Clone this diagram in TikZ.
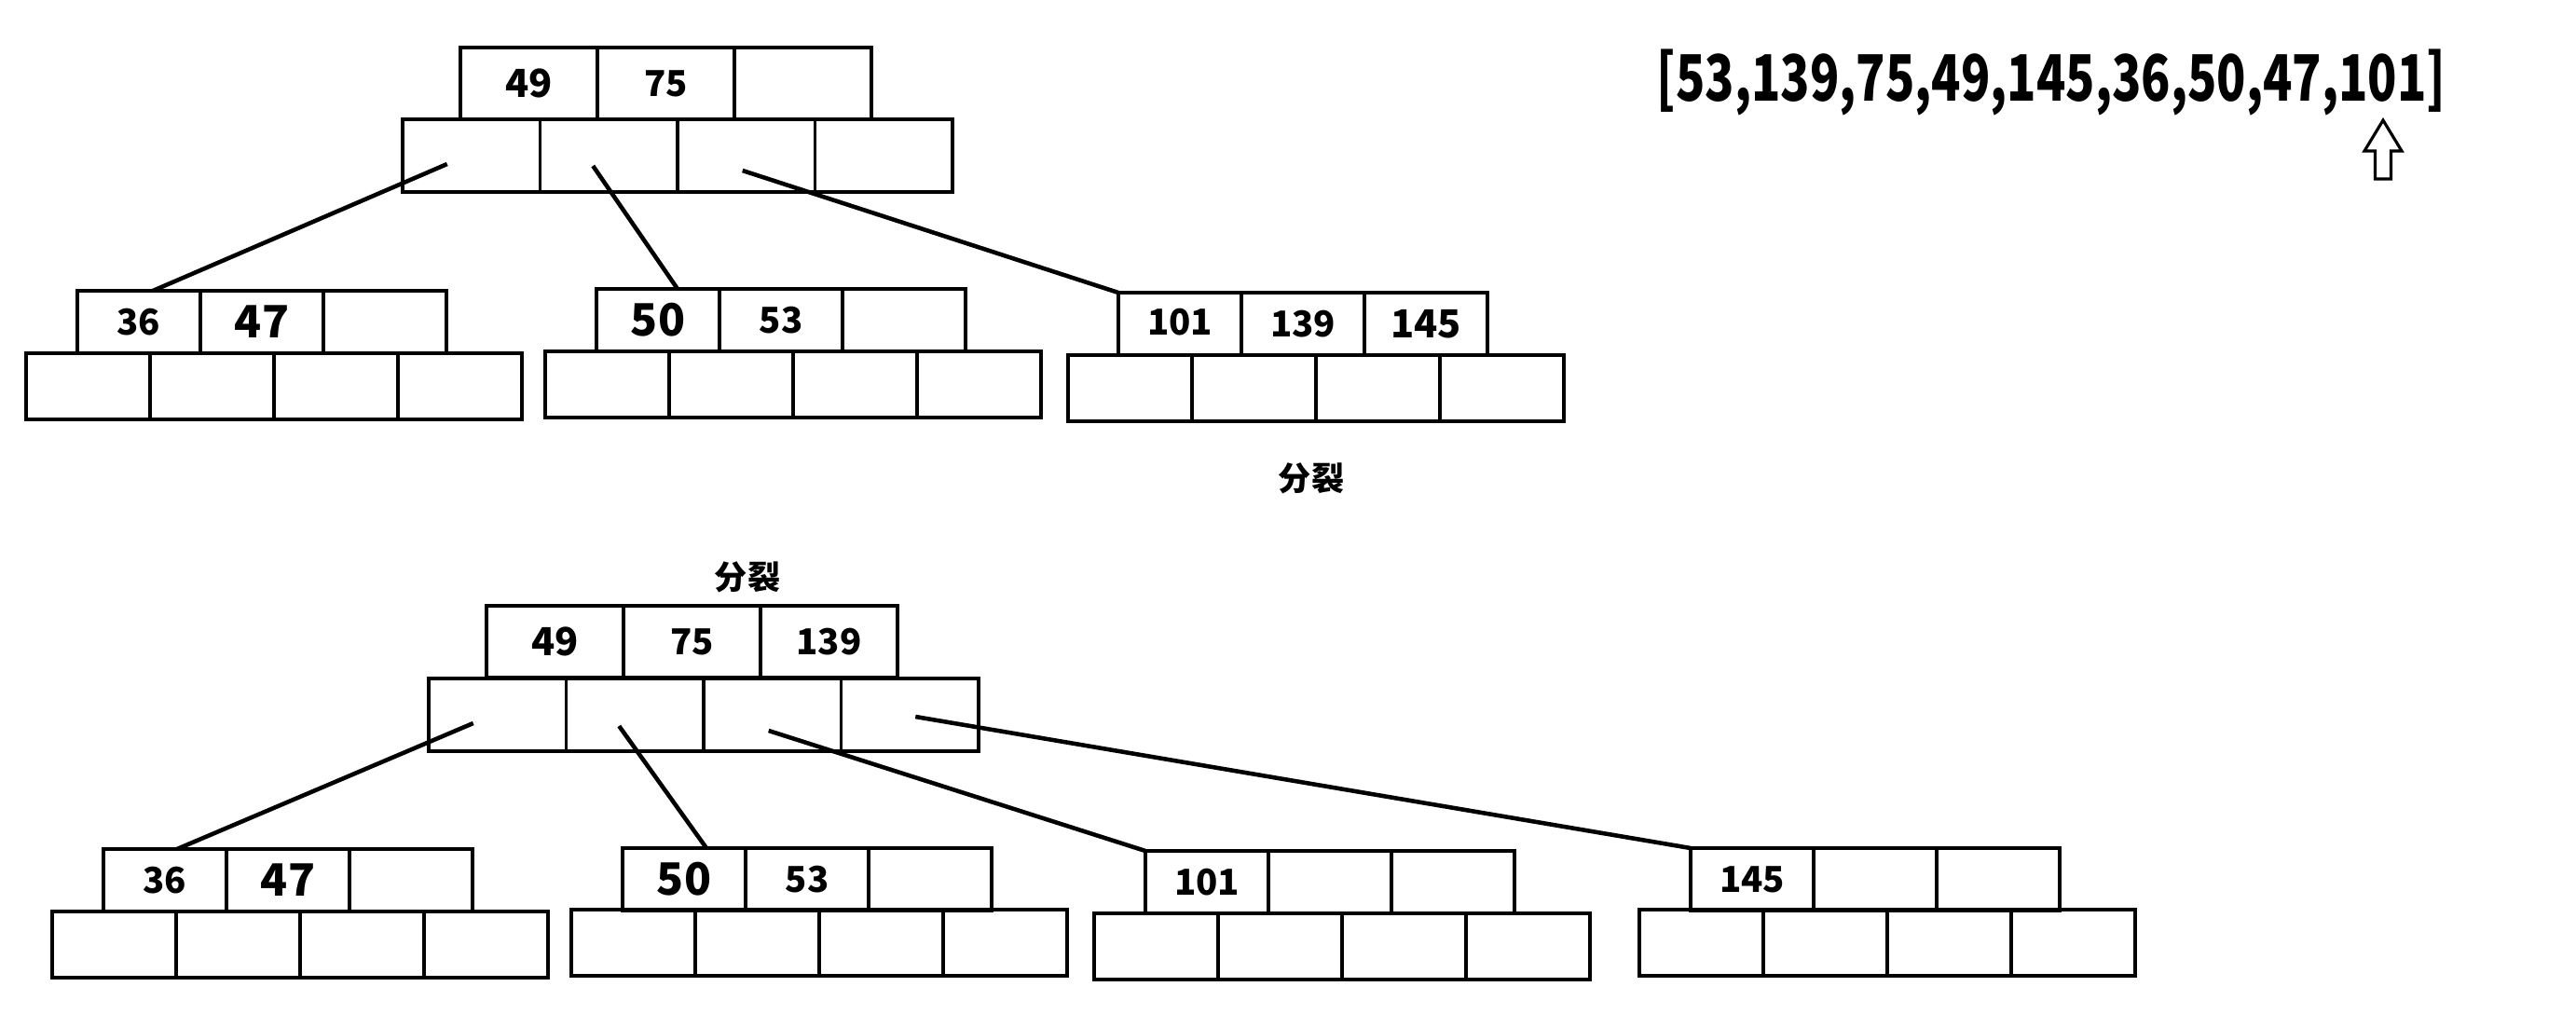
\documentclass[tikz,border=0pt]{standalone}
\usepackage{fontspec}
\setmainfont{Noto Sans CJK SC}
\usepackage{graphicx}
\usepackage{tikz}
\usetikzlibrary{positioning}

\begin{document}
\begin{tikzpicture}[
  cell/.style={draw,line width=1.1pt,inner sep=0pt,outer sep=0pt,font=\fontsize{10.9}{12}\selectfont\bfseries},
  rkey/.style={cell,minimum width=14.7mm,minimum height=7.7mm},
  rptr/.style={cell,minimum width=14.75mm,minimum height=7.8mm},
  ckey/.style={cell,minimum width=13.2mm,minimum height=6.7mm},
  cptr/.style={cell,minimum width=13.3mm,minimum height=7.1mm},
  mid/.style={font=\fontsize{11.8}{13}\selectfont\bfseries},
  big/.style={font=\fontsize{13.6}{15}\selectfont\bfseries},
  link/.style={line width=1.3pt},
  label/.style={font=\fontsize{10}{12}\selectfont\bfseries}
]
\useasboundingbox (0,0) rectangle (27.64,-10.88);

% sequence and pointer
\node[font=\fontsize{18.6}{20}\selectfont\bfseries,anchor=base] (seq) at (22.01,-1.08) {\scalebox{0.79}[1.05]{[53,139,75,49,145,36,50,47,101]}};
\coordinate (tip) at (25.57,-1.29);
\draw[line width=0.9pt] (tip) -- ++(0.20,-0.33) -- ++(-0.115,0) -- ++(0,-0.30) -- ++(-0.17,0) -- ++(0,0.30) -- ++(-0.115,0) -- cycle;

% before split
\node[rkey,mid,anchor=north west] (tk1) at (4.94,-0.51) {49};
\node[rkey,right=0pt of tk1] (tk2) {75};
\node[rkey,right=0pt of tk2] (tk3) {};
\node[rptr,anchor=north west] (tp1) at (4.32,-1.28) {};
\foreach \i [evaluate=\i as \j using int(\i+1)] in {1,2,3}
  \node[rptr,right=0pt of tp\i] (tp\j) {};

\node[ckey,anchor=north west] (tak1) at (0.83,-3.12) {36};
\node[ckey,big,right=0pt of tak1] (tak2) {47};
\node[ckey,right=0pt of tak2] (tak3) {};
\node[cptr,anchor=north west] (tap1) at (0.28,-3.79) {};
\foreach \i [evaluate=\i as \j using int(\i+1)] in {1,2,3}
  \node[cptr,right=0pt of tap\i] (tap\j) {};

\node[ckey,big,anchor=north west] (tbk1) at (6.40,-3.10) {50};
\node[ckey,right=0pt of tbk1] (tbk2) {53};
\node[ckey,right=0pt of tbk2] (tbk3) {};
\node[cptr,anchor=north west] (tbp1) at (5.85,-3.77) {};
\foreach \i [evaluate=\i as \j using int(\i+1)] in {1,2,3}
  \node[cptr,right=0pt of tbp\i] (tbp\j) {};

\node[ckey,anchor=north west] (tck1) at (12.00,-3.14) {\raisebox{1pt}{101}};
\node[ckey,right=0pt of tck1] (tck2) {\raisebox{-4pt}{139}};
\node[ckey,mid,right=0pt of tck2] (tck3) {145};
\node[cptr,anchor=north west] (tcp1) at (11.46,-3.81) {};
\foreach \i [evaluate=\i as \j using int(\i+1)] in {1,2,3}
  \node[cptr,right=0pt of tcp\i] (tcp\j) {};

\draw[link] ([xshift=-2.6mm,yshift=-0.9mm]tp1.center) -- ([xshift=1.5mm]tak1.north);
\draw[link] ([xshift=-1.7mm,yshift=-1.1mm]tp2.center) -- ([xshift=2.1mm]tbk1.north);
\draw[link] ([xshift=-0.4mm,yshift=-1.6mm]tp3.center) -- (tck1.north west);

\node[label] (split1) at (14.07,-5.13) {分裂};
\node[label] (split2) at (8.02,-6.19) {分裂};

% after split
\node[rkey,mid,anchor=north west] (bk1) at (5.22,-6.50) {49};
\node[rkey,right=0pt of bk1] (bk2) {75};
\node[rkey,right=0pt of bk2] (bk3) {139};
\node[rptr,anchor=north west] (bp1) at (4.60,-7.28) {};
\foreach \i [evaluate=\i as \j using int(\i+1)] in {1,2,3}
  \node[rptr,right=0pt of bp\i] (bp\j) {};

\node[ckey,anchor=north west] (bak1) at (1.11,-9.11) {36};
\node[ckey,big,right=0pt of bak1] (bak2) {47};
\node[ckey,right=0pt of bak2] (bak3) {};
\node[cptr,anchor=north west] (bap1) at (0.56,-9.78) {};
\foreach \i [evaluate=\i as \j using int(\i+1)] in {1,2,3}
  \node[cptr,right=0pt of bap\i] (bap\j) {};

\node[ckey,big,anchor=north west] (bbk1) at (6.68,-9.10) {50};
\node[ckey,right=0pt of bbk1] (bbk2) {53};
\node[ckey,right=0pt of bbk2] (bbk3) {};
\node[cptr,anchor=north west] (bbp1) at (6.13,-9.76) {};
\foreach \i [evaluate=\i as \j using int(\i+1)] in {1,2,3}
  \node[cptr,right=0pt of bbp\i] (bbp\j) {};

\node[ckey,anchor=north west] (bck1) at (12.29,-9.13) {101};
\node[ckey,right=0pt of bck1] (bck2) {};
\node[ckey,right=0pt of bck2] (bck3) {};
\node[cptr,anchor=north west] (bcp1) at (11.74,-9.80) {};
\foreach \i [evaluate=\i as \j using int(\i+1)] in {1,2,3}
  \node[cptr,right=0pt of bcp\i] (bcp\j) {};

\node[ckey,anchor=north west] (bdk1) at (18.14,-9.10) {145};
\node[ckey,right=0pt of bdk1] (bdk2) {};
\node[ckey,right=0pt of bdk2] (bdk3) {};
\node[cptr,anchor=north west] (bdp1) at (17.59,-9.76) {};
\foreach \i [evaluate=\i as \j using int(\i+1)] in {1,2,3}
  \node[cptr,right=0pt of bdp\i] (bdp\j) {};

\draw[link] ([xshift=-2.6mm,yshift=-0.9mm]bp1.center) -- ([xshift=1.3mm]bak1.north);
\draw[link] ([xshift=-1.7mm,yshift=-1.2mm]bp2.center) -- ([xshift=2.4mm]bbk1.north);
\draw[link] ([xshift=-0.4mm,yshift=-1.7mm]bp3.center) -- (bck1.north west);
\draw[link] ([xshift=0.6mm,yshift=-0.2mm]bp4.center) -- (bdk1.north west);
\end{tikzpicture}
\end{document}
